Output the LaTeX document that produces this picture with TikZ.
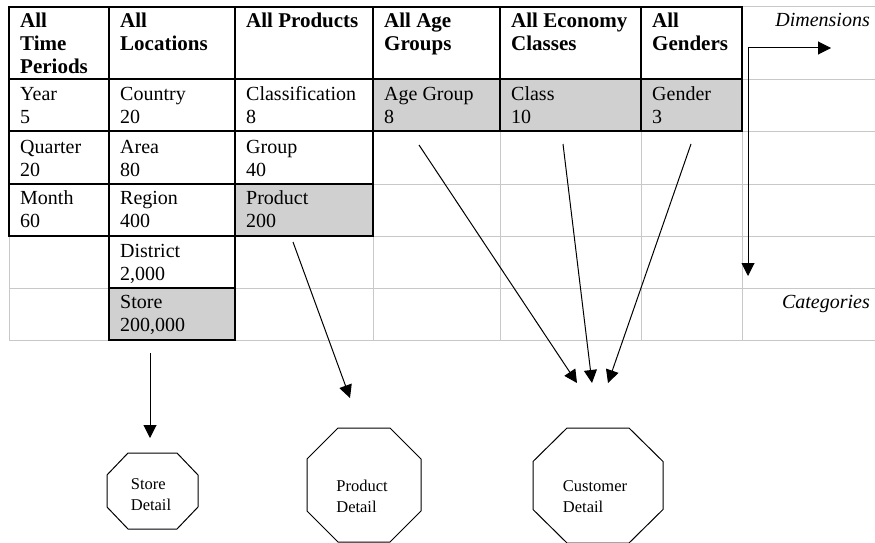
\documentclass[tikz,border=0pt]{standalone}
\usepackage{fontspec}
\setmainfont{Liberation Serif}
\usetikzlibrary{arrows.meta}
\definecolor{gridgray}{RGB}{200,200,200}
\definecolor{cellfill}{RGB}{208,208,208}
\newcommand\cellfont{\fontsize{20}{23.3}\selectfont}
\newcommand\hdrfont{\fontsize{21}{23.3}\selectfont\bfseries}
\newcommand\detfont{\fontsize{16.5}{21}\selectfont}
\begin{document}
\begin{tikzpicture}[x=1pt,y=-1pt,
  gridline/.style={draw=gridgray, line width=1pt},
  blackline/.style={draw=black, line width=1.3pt},
  shaded/.style={fill=cellfill},
  celltext/.style={anchor=north west, inner sep=0pt, align=left, font=\cellfont},
  hdr/.style={celltext, font=\hdrfont},
  tag/.style={anchor=base east, inner sep=0pt, font=\cellfont\itshape},
  link/.style={line width=1pt, -{Triangle[length=13pt,width=13pt]}},
  octagon/.style={draw, line width=1pt},
  dettext/.style={align=left, inner sep=0pt, font=\detfont}]
\useasboundingbox (0,0) rectangle (875,543);

% shaded cells
\fill[shaded] (373,79) rectangle (742,131);
\fill[shaded] (235,184) rectangle (373,236);
\fill[shaded] (109,288) rectangle (235,340);

% light grid
\foreach \x in {9,109,235,373,500,641,742}
  \draw[gridline] (\x,7) -- (\x,340);
\foreach \y in {7,79,131,184,236,288,340}
  \draw[gridline] (9,\y) -- (875,\y);

% black cell borders
\draw[blackline] (9,7) rectangle (742,131);
\draw[blackline] (9,79) -- (742,79);
\foreach \x in {109,235,373,500,641}
  \draw[blackline] (\x,7) -- (\x,131);
\draw[blackline] (9,131) rectangle (373,236);
\draw[blackline] (9,184) -- (373,184);
\foreach \x in {109,235}
  \draw[blackline] (\x,131) -- (\x,236);
\draw[blackline] (109,236) rectangle (235,340);
\draw[blackline] (109,288) -- (235,288);

% header row (top of each strut = baseline - 16.31)
\node[hdr] (hTime) at (20,10.69) {\strut All\\Time\\Periods};
\node[hdr] (hLoc)  at (120,10.69) {\strut All\\Locations};
\node[hdr] (hProd) at (246,10.69) {\strut All Products};
\node[hdr] (hAge)  at (384,10.69) {\strut All Age\\Groups};
\node[hdr] (hEcon) at (511,10.69) {\strut All Economy\\Classes};
\node[hdr] (hGen)  at (652,10.69) {\strut All\\Genders};

% level rows
\node[celltext] (year)    at (20,83.69)  {\strut Year\\5};
\node[celltext] (country) at (120,83.69) {\strut Country\\20};
\node[celltext] (classif) at (246,83.69) {\strut Classification\\8};
\node[celltext] (agegrp)  at (384,83.69) {\strut Age Group\\8};
\node[celltext] (class)   at (511,83.69) {\strut Class\\10};
\node[celltext] (gender)  at (652,83.69) {\strut Gender\\3};

\node[celltext] (quarter) at (20,136.8)  {\strut Quarter\\20};
\node[celltext] (area)    at (120,136.8) {\strut Area\\80};
\node[celltext] (group)   at (246,136.8) {\strut Group\\40};

\node[celltext] (month)   at (20,187.6)  {\strut Month\\60};
\node[celltext] (region)  at (120,187.6) {\strut Region\\400};
\node[celltext] (product) at (246,187.6) {\strut Product\\200};

\node[celltext] (district) at (120,240.9) {\strut District\\2,000};
\node[celltext] (store)    at (120,291.9) {\strut Store\\200,000};

% axis labels
\node[tag] (dimlabel) at (870,27) {Dimensions};
\node[tag] (catlabel) at (870,308) {Categories};

% axis arrows
\coordinate (corner) at (748,48);
\coordinate (dimtip) at (831,48);
\coordinate (cattip) at (748,276);
\draw[link] (corner) -- (dimtip);
\draw[link] (corner) -- (cattip);

% detail tables
\node[dettext] (storedet) at (151,493) {\strut Store\\Detail};
\node[dettext] (proddet)  at (362,494.5) {\strut Product\\Detail};
\node[dettext] (custdet)  at (595,494.5) {\strut Customer\\Detail};

\draw[octagon, shift={(152.5,491)}]
  (-24.5,-38) -- (24.5,-38) -- (45.5,-16) -- (45.5,16) -- (24.5,38)
  -- (-24.5,38) -- (-45.5,16) -- (-45.5,-16) -- cycle;
\draw[octagon, shift={(364,485)}]
  (-26,-57) -- (26,-57) -- (57,-26) -- (57,26) -- (26,57)
  -- (-26,57) -- (-57,26) -- (-57,-26) -- cycle;
\draw[octagon, shift={(598,485.5)}]
  (-31,-57.5) -- (31,-57.5) -- (65,-24) -- (65,24) -- (31,57.5)
  -- (-31,57.5) -- (-65,24) -- (-65,-24) -- cycle;

% feeds into the detail tables
\coordinate (storefrom) at (150,353);
\coordinate (storeto)   at (150,438);
\coordinate (prodfrom)  at (293,242);
\coordinate (prodto)    at (350,398);
\coordinate (agefrom)   at (419,145);
\coordinate (classfrom) at (563,144);
\coordinate (genfrom)   at (691,144);
\coordinate (custA) at (577,383);
\coordinate (custB) at (592,383);
\coordinate (custC) at (608,383);
\draw[link] (storefrom) -- (storeto);
\draw[link] (prodfrom) -- (prodto);
\draw[link] (agefrom) -- (custA);
\draw[link] (classfrom) -- (custB);
\draw[link] (genfrom) -- (custC);
\end{tikzpicture}
\end{document}
